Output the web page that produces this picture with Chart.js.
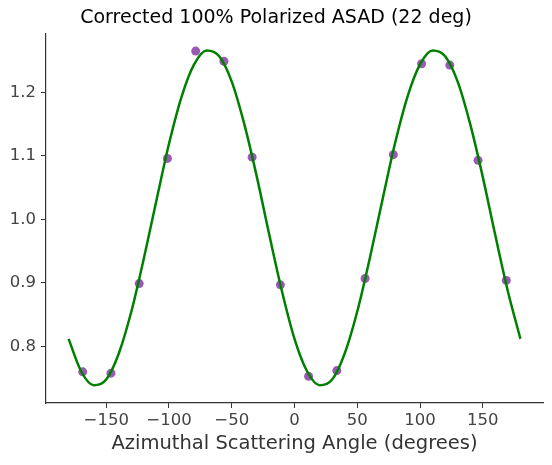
<!DOCTYPE html>
<html>
<head>
<meta charset="utf-8">
<script src="https://cdn.jsdelivr.net/npm/chart.js@4/dist/chart.umd.min.js"></script>
<style>
  html, body { margin: 0; padding: 0; background: #fff; }
  #wrap { width: 552px; height: 465px; }
</style>
</head>
<body>
<div id="wrap"><canvas id="asad"></canvas></div>
<script>
// measured bins (deg) and corrected counts
const binAngles = [-168.75, -146.25, -123.75, -101.25, -78.75, -56.25, -33.75, -11.25,
                   11.25, 33.75, 56.25, 78.75, 101.25, 123.75, 146.25, 168.75];
const binValues = [0.760, 0.758, 0.899, 1.096, 1.265, 1.249, 1.098, 0.897,
                   0.753, 0.762, 0.907, 1.102, 1.245, 1.243, 1.093, 0.904];

// fit curve, every 10 deg
const fitAngles = [-180, -170, -160, -150, -140, -130, -120, -110, -100, -90,
                   -80, -70, -60, -50, -40, -30, -20, -10, 0,
                   10, 20, 30, 40, 50, 60, 70, 80, 90,
                   100, 110, 120, 130, 140, 150, 160, 170, 180];
const fitValues = [0.812, 0.761, 0.739, 0.748, 0.789, 0.855, 0.939, 1.030, 1.119, 1.193,
                   1.244, 1.266, 1.257, 1.217, 1.150, 1.067, 0.975, 0.887, 0.812,
                   0.761, 0.739, 0.748, 0.789, 0.855, 0.939, 1.030, 1.119, 1.193,
                   1.244, 1.266, 1.257, 1.217, 1.150, 1.067, 0.975, 0.887, 0.812];

const xTicks = [-150, -100, -50, 0, 50, 100, 150];
const yTicks = [0.8, 0.9, 1.0, 1.1, 1.2];

const font = "'DejaVu Sans', sans-serif";
const axisColor = "#333333";
const tickText = "#444444";

new Chart(document.getElementById("asad"), {
    type: "scatter",
    data: {
        datasets: [
            {
                label: "fit",
                type: "line",
                data: fitAngles.map((a, i) => ({ x: a, y: fitValues[i] })),
                borderColor: "#008000",
                borderWidth: 2.5,
                pointRadius: 0,
                cubicInterpolationMode: "monotone",
                fill: false,
                order: 0,
            },
            {
                label: "data",
                data: binAngles.map((a, i) => ({ x: a, y: binValues[i] })),
                backgroundColor: "#9b59b6",
                borderWidth: 0,
                pointRadius: 4.5,
                order: 1,
            },
        ],
    },
    options: {
        responsive: true,
        maintainAspectRatio: false,
        animation: false,
        layout: { padding: 0 },
        plugins: {
            legend: { display: false },
            tooltip: { enabled: false },
            title: {
                display: true,
                text: "Corrected 100% Polarized ASAD (22 deg)",
                color: "#000000",
                font: { family: font, size: 19, weight: "normal" },
                padding: { top: 7, bottom: 3.5 },
            },
        },
        scales: {
            x: {
                type: "linear",
                min: -198,
                max: 198,
                afterBuildTicks: (s) => { s.ticks = xTicks.map((v) => ({ value: v })); },
                afterFit: (s) => { s.height = 62; },
                border: { display: true, color: axisColor, width: 1.2 },
                grid: { display: true, drawOnChartArea: false, drawTicks: true, tickLength: 5, color: axisColor },
                ticks: {
                    color: tickText,
                    padding: 3,
                    maxRotation: 0,
                    font: { family: font, size: 16.5 },
                    callback: (v) => String(v).replace("-", "\u2212"),
                },
                title: {
                    display: true,
                    text: "Azimuthal Scattering Angle (degrees)",
                    color: axisColor,
                    font: { family: font, size: 19.5 },
                    padding: { top: 0, bottom: 9 },
                },
            },
            y: {
                type: "linear",
                min: 0.711,
                max: 1.293,
                afterBuildTicks: (s) => { s.ticks = yTicks.map((v) => ({ value: v })); },
                afterFit: (s) => { s.width = 46; },
                border: { display: true, color: axisColor, width: 1.2 },
                grid: { display: true, drawOnChartArea: false, drawTicks: true, tickLength: 5, color: axisColor },
                ticks: {
                    color: tickText,
                    padding: 5,
                    font: { family: font, size: 16.5 },
                    callback: (v) => v.toFixed(1),
                },
            },
            // empty strip on the right, keeps the title centred on the canvas
            yRight: {
                type: "linear",
                position: "right",
                display: true,
                afterFit: (s) => { s.width = 9; },
                border: { display: false },
                grid: { display: false },
                ticks: { display: false },
            },
        },
    },
});
</script>
</body>
</html>
